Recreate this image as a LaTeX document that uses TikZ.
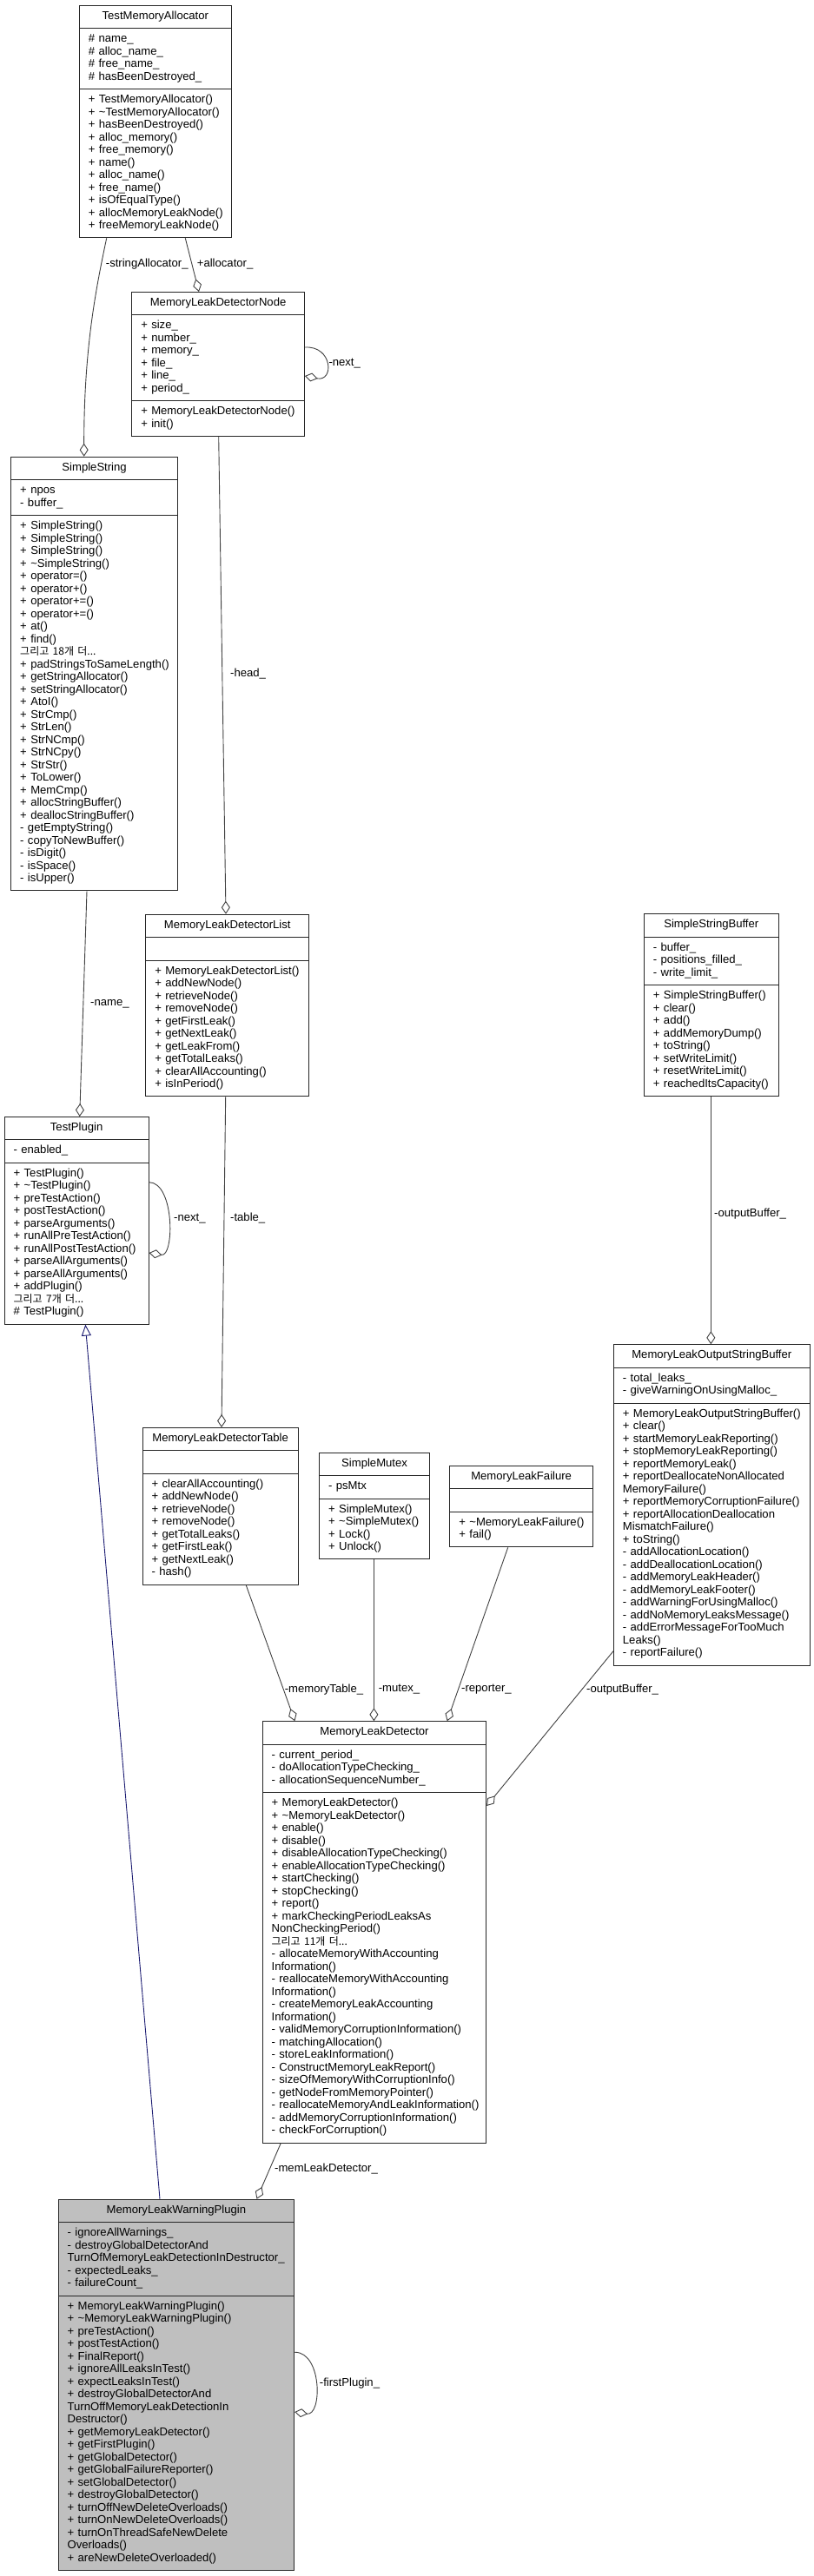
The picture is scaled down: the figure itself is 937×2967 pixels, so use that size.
\documentclass[tikz,border=0pt]{standalone}
\usepackage{fontspec}
\setmainfont{Liberation Sans}
\newfontfamily\krfont{Noto Sans CJK KR}
\usetikzlibrary{shapes.multipart,arrows.meta}
\definecolor{edgecol}{HTML}{404040}
\definecolor{navyedge}{HTML}{191970}
\definecolor{fillgray}{HTML}{BFBFBF}
\setlength{\parindent}{0pt}
\newcommand\cl[1]{\noindent\mbox{\strut#1}\par}
\newcommand\ct[1]{\noindent\makebox[\hsize][c]{\strut#1}\par}
\newcommand\kr[1]{{\krfont\fontsize{12}{14.5}\selectfont#1}}
\newcommand\tl{\textasciitilde}
\tikzset{
  cls/.style={rectangle split, rectangle split parts=3, draw=black!85, line width=0.9pt,
    inner xsep=10.5pt, inner ysep=5.5pt, align=left, fill=white,
    font=\fontsize{13.1}{14.5}\selectfont, anchor=north west},
  agg/.style={draw=edgecol, line width=0.9pt, -{Diamond[open,length=15pt,width=10pt,line width=0.9pt]}},
  inh/.style={draw=navyedge, line width=0.9pt, -{Triangle[open,length=13pt,width=11pt,line width=0.9pt]}},
  lbl/.style={font=\fontsize{13.1}{14.5}\selectfont, inner sep=0pt, anchor=west}
}
\begin{document}
\begin{tikzpicture}[x=1pt,y=-1pt]
\useasboundingbox (0,0) rectangle (937,2967);

\node[cls, text width=153.7pt] (tma) at (91,5.7) {\ct{TestMemoryAllocator}
\nodepart{two}\cl{\# name\_}\cl{\# alloc\_name\_}\cl{\# free\_name\_}\cl{\# hasBeenDestroyed\_}
\nodepart{three}\cl{+ TestMemoryAllocator()}\cl{+ \tl TestMemoryAllocator()}\cl{+ hasBeenDestroyed()}\cl{+ alloc\_memory()}\cl{+ free\_memory()}\cl{+ name()}\cl{+ alloc\_name()}\cl{+ free\_name()}\cl{+ isOfEqualType()}\cl{+ allocMemoryLeakNode()}\cl{+ freeMemoryLeakNode()}};

\node[cls, text width=177.7pt] (mnode) at (151.3,336) {\ct{MemoryLeakDetectorNode}
\nodepart{two}\cl{+ size\_}\cl{+ number\_}\cl{+ memory\_}\cl{+ file\_}\cl{+ line\_}\cl{+ period\_}
\nodepart{three}\cl{+ MemoryLeakDetectorNode()}\cl{+ init()}};

\node[cls, text width=170.7pt] (ss) at (12.3,525.7) {\ct{SimpleString}
\nodepart{two}\cl{+ npos}\cl{- buffer\_}
\nodepart{three}\cl{+ SimpleString()}\cl{+ SimpleString()}\cl{+ SimpleString()}\cl{+ \tl SimpleString()}\cl{+ operator=()}\cl{+ operator+()}\cl{+ operator+=()}\cl{+ operator+=()}\cl{+ at()}\cl{+ find()}\cl{\kr{그리고 18개 더...}}\cl{+ padStringsToSameLength()}\cl{+ getStringAllocator()}\cl{+ setStringAllocator()}\cl{+ AtoI()}\cl{+ StrCmp()}\cl{+ StrLen()}\cl{+ StrNCmp()}\cl{+ StrNCpy()}\cl{+ StrStr()}\cl{+ ToLower()}\cl{+ MemCmp()}\cl{+ allocStringBuffer()}\cl{+ deallocStringBuffer()}\cl{- getEmptyString()}\cl{- copyToNewBuffer()}\cl{- isDigit()}\cl{- isSpace()}\cl{- isUpper()}};

\node[cls, text width=167pt] (list) at (167.3,1052.7) {\ct{MemoryLeakDetectorList}
\nodepart{two}\strut
\nodepart{three}\cl{+ MemoryLeakDetectorList()}\cl{+ addNewNode()}\cl{+ retrieveNode()}\cl{+ removeNode()}\cl{+ getFirstLeak()}\cl{+ getNextLeak()}\cl{+ getLeakFrom()}\cl{+ getTotalLeaks()}\cl{+ clearAllAccounting()}\cl{+ isInPeriod()}};

\node[cls, text width=145pt] (plugin) at (4.7,1286) {\ct{TestPlugin}
\nodepart{two}\cl{- enabled\_}
\nodepart{three}\cl{+ TestPlugin()}\cl{+ \tl TestPlugin()}\cl{+ preTestAction()}\cl{+ postTestAction()}\cl{+ parseArguments()}\cl{+ runAllPreTestAction()}\cl{+ runAllPostTestAction()}\cl{+ parseAllArguments()}\cl{+ parseAllArguments()}\cl{+ addPlugin()}\cl{\kr{그리고 7개 더...}}\cl{\# TestPlugin()}};

\node[cls, text width=133.7pt] (ssb) at (741,1052.3) {\ct{SimpleStringBuffer}
\nodepart{two}\cl{- buffer\_}\cl{- positions\_filled\_}\cl{- write\_limit\_}
\nodepart{three}\cl{+ SimpleStringBuffer()}\cl{+ clear()}\cl{+ add()}\cl{+ addMemoryDump()}\cl{+ toString()}\cl{+ setWriteLimit()}\cl{+ resetWriteLimit()}\cl{+ reachedItsCapacity()}};

\node[cls, text width=204.7pt] (mlosb) at (706,1548.3) {\ct{MemoryLeakOutputStringBuffer}
\nodepart{two}\cl{- total\_leaks\_}\cl{- giveWarningOnUsingMalloc\_}
\nodepart{three}\cl{+ MemoryLeakOutputStringBuffer()}\cl{+ clear()}\cl{+ startMemoryLeakReporting()}\cl{+ stopMemoryLeakReporting()}\cl{+ reportMemoryLeak()}\cl{+ reportDeallocateNonAllocated}\cl{MemoryFailure()}\cl{+ reportMemoryCorruptionFailure()}\cl{+ reportAllocationDeallocation}\cl{MismatchFailure()}\cl{+ toString()}\cl{- addAllocationLocation()}\cl{- addDeallocationLocation()}\cl{- addMemoryLeakHeader()}\cl{- addMemoryLeakFooter()}\cl{- addWarningForUsingMalloc()}\cl{- addNoMemoryLeaksMessage()}\cl{- addErrorMessageForTooMuch}\cl{Leaks()}\cl{- reportFailure()}};

\node[cls, text width=158pt] (table) at (163.7,1644) {\ct{MemoryLeakDetectorTable}
\nodepart{two}\strut
\nodepart{three}\cl{+ clearAllAccounting()}\cl{+ addNewNode()}\cl{+ retrieveNode()}\cl{+ removeNode()}\cl{+ getTotalLeaks()}\cl{+ getFirstLeak()}\cl{+ getNextLeak()}\cl{- hash()}};

\node[cls, text width=105.9pt] (mutex) at (367.2,1672.7) {\ct{SimpleMutex}
\nodepart{two}\cl{- psMtx}
\nodepart{three}\cl{+ SimpleMutex()}\cl{+ \tl SimpleMutex()}\cl{+ Lock()}\cl{+ Unlock()}};

\node[cls, text width=143.6pt] (failure) at (517.4,1687.7) {\ct{MemoryLeakFailure}
\nodepart{two}\strut
\nodepart{three}\cl{+ \tl MemoryLeakFailure()}\cl{+ fail()}};

\node[cls, text width=236.6pt] (mld) at (301.7,1982.3) {\ct{MemoryLeakDetector}
\nodepart{two}\cl{- current\_period\_}\cl{- doAllocationTypeChecking\_}\cl{- allocationSequenceNumber\_}
\nodepart{three}\cl{+ MemoryLeakDetector()}\cl{+ \tl MemoryLeakDetector()}\cl{+ enable()}\cl{+ disable()}\cl{+ disableAllocationTypeChecking()}\cl{+ enableAllocationTypeChecking()}\cl{+ startChecking()}\cl{+ stopChecking()}\cl{+ report()}\cl{+ markCheckingPeriodLeaksAs}\cl{NonCheckingPeriod()}\cl{\kr{그리고 11개 더...}}\cl{- allocateMemoryWithAccounting}\cl{Information()}\cl{- reallocateMemoryWithAccounting}\cl{Information()}\cl{- createMemoryLeakAccounting}\cl{Information()}\cl{- validMemoryCorruptionInformation()}\cl{- matchingAllocation()}\cl{- storeLeakInformation()}\cl{- ConstructMemoryLeakReport()}\cl{- sizeOfMemoryWithCorruptionInfo()}\cl{- getNodeFromMemoryPointer()}\cl{- reallocateMemoryAndLeakInformation()}\cl{- addMemoryCorruptionInformation()}\cl{- checkForCorruption()}};

\node[cls, fill=fillgray, text width=250.6pt] (mlwp) at (66.7,2532.7) {\ct{MemoryLeakWarningPlugin}
\nodepart{two}\cl{- ignoreAllWarnings\_}\cl{- destroyGlobalDetectorAnd}\cl{TurnOfMemoryLeakDetectionInDestructor\_}\cl{- expectedLeaks\_}\cl{- failureCount\_}
\nodepart{three}\cl{+ MemoryLeakWarningPlugin()}\cl{+ \tl MemoryLeakWarningPlugin()}\cl{+ preTestAction()}\cl{+ postTestAction()}\cl{+ FinalReport()}\cl{+ ignoreAllLeaksInTest()}\cl{+ expectLeaksInTest()}\cl{+ destroyGlobalDetectorAnd}\cl{TurnOffMemoryLeakDetectionIn}\cl{Destructor()}\cl{+ getMemoryLeakDetector()}\cl{+ getFirstPlugin()}\cl{+ getGlobalDetector()}\cl{+ getGlobalFailureReporter()}\cl{+ setGlobalDetector()}\cl{+ destroyGlobalDetector()}\cl{+ turnOffNewDeleteOverloads()}\cl{+ turnOnNewDeleteOverloads()}\cl{+ turnOnThreadSafeNewDelete}\cl{Overloads()}\cl{+ areNewDeleteOverloaded()}};

% connectors
\draw[agg] (122.7,0 |- tma.south) .. controls (111,330) and (96.5,400) .. (96.7,0 |- ss.north);
\draw[agg] (213.3,0 |- tma.south) -- (229,0 |- mnode.north);
\draw[agg] (mnode.east |- 0,400) .. controls (383,398) and (385,440) .. (mnode.east |- 0,433);
\draw[agg] (251.7,0 |- mnode.south) -- (260,0 |- list.north);
\draw[agg] (100,0 |- ss.south) -- (91.7,0 |- plugin.north);
\draw[agg] (plugin.east |- 0,1361.7) .. controls (201,1362) and (201,1448) .. (plugin.east |- 0,1443);
\draw[agg] (259.7,0 |- list.south) -- (255,0 |- table.north);
\draw[agg] (818.3,0 |- ssb.south) -- (818.3,0 |- mlosb.north);
\draw[agg] (283.2,0 |- table.south) -- (339.4,0 |- mld.north);
\draw[agg] (430.4,0 |- mutex.south) -- (430.4,0 |- mld.north);
\draw[agg] (584.7,0 |- failure.south) -- (514.7,0 |- mld.north);
\draw[agg] (mlosb.west |- 0,1901.7) -- (mld.east |- 0,2080);
\draw[agg] (323.3,0 |- mld.south) -- (295.5,0 |- mlwp.north);
\draw[agg] (mlwp.east |- 0,2709.2) .. controls (371,2709) and (371,2783) .. (mlwp.east |- 0,2778);
\draw[inh] (184,0 |- mlwp.north) -- (98.3,0 |- plugin.south);

% labels
\node[lbl] (l1) at (121.7,304) {-stringAllocator\_};
\node[lbl] (l2) at (226.7,304) {+allocator\_};
\node[lbl] (l3) at (378.3,418.3) {-next\_};
\node[lbl] (l4) at (265,776) {-head\_};
\node[lbl] (l5) at (104,1156.7) {-name\_};
\node[lbl] (l6) at (200,1404) {-next\_};
\node[lbl] (l7) at (265,1403.5) {-table\_};
\node[lbl] (l8) at (822,1398) {-outputBuffer\_};
\node[lbl] (l9) at (327.6,1946) {-memoryTable\_};
\node[lbl] (l10) at (435.6,1946) {-mutex\_};
\node[lbl] (l11) at (531,1946) {-reporter\_};
\node[lbl] (l12) at (675,1946) {-outputBuffer\_};
\node[lbl] (l13) at (316,2498.4) {-memLeakDetector\_};
\node[lbl] (l14) at (367.7,2745.4) {-firstPlugin\_};
\end{tikzpicture}
\end{document}
